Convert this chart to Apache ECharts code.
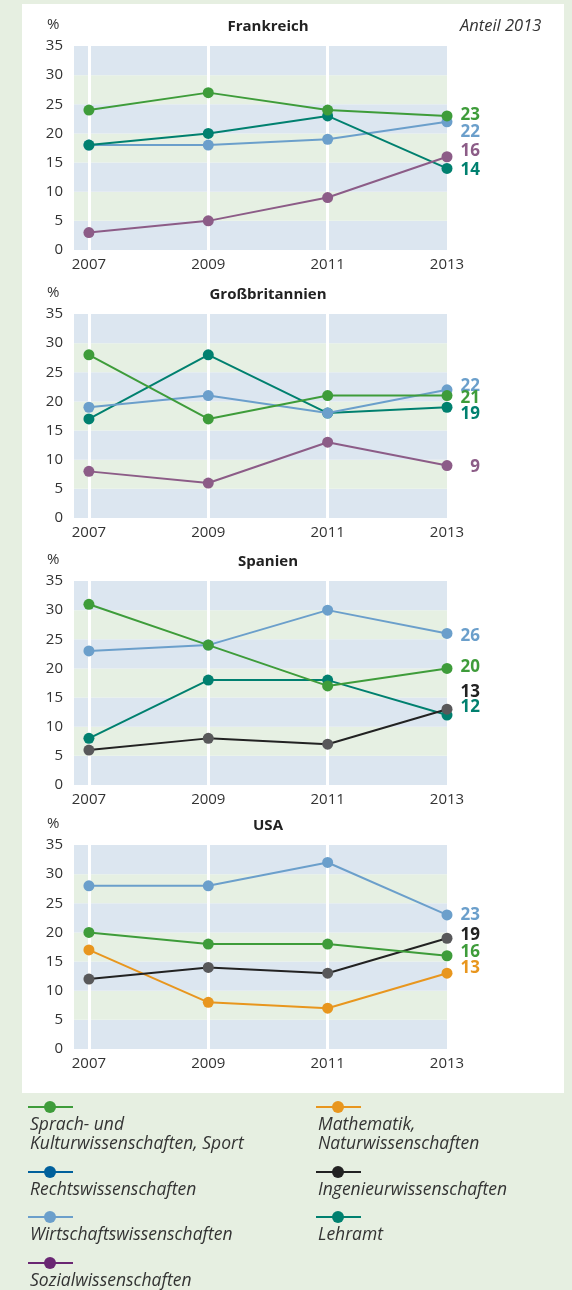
<!DOCTYPE html>
<html>
<head>
<meta charset="utf-8">
<script src="https://cdn.jsdelivr.net/npm/echarts@6/dist/echarts.min.js"></script>
<style>
  html, body { margin: 0; padding: 0; background: #e6efe1; }
  #chart { width: 572px; height: 1290px; }
</style>
</head>
<body>
<div id="chart"></div>
<script>
// data
const years = [2007, 2009, 2011, 2013];
const countries = ["Frankreich", "Großbritannien", "Spanien", "USA"];

const frSprach = [24, 27, 24, 23];
const frWirtschaft = [18, 18, 19, 22];
const frLehramt = [18, 20, 23, 14];
const frSozial = [3, 5, 9, 16];

const gbSprach = [28, 17, 21, 21];
const gbWirtschaft = [19, 21, 18, 22];
const gbLehramt = [17, 28, 18, 19];
const gbSozial = [8, 6, 13, 9];

const esSprach = [31, 24, 17, 20];
const esWirtschaft = [23, 24, 30, 26];
const esLehramt = [8, 18, 18, 12];
const esIngenieur = [6, 8, 7, 13];

const usSprach = [20, 18, 18, 16];
const usWirtschaft = [28, 28, 32, 23];
const usMathematik = [17, 8, 7, 13];
const usIngenieur = [12, 14, 13, 19];

const fields = [
  "Sprach- und\nKulturwissenschaften, Sport",
  "Rechtswissenschaften",
  "Wirtschaftswissenschaften",
  "Sozialwissenschaften",
  "Mathematik,\nNaturwissenschaften",
  "Ingenieurwissenschaften",
  "Lehramt",
];

// styles
const FONT = "'Open Sans', 'Noto Sans', sans-serif";
const TEXT = "#333";
const colors = {
  sprach: "#3e9c3a",
  recht: "#00609c",
  wirtschaft: "#6b9fcb",
  sozial: "#8c5c87",
  sozialLegend: "#6a2773",
  mathe: "#e8961e",
  ingenieur: "#222222",
  ingenieurDot: "#58585a",
  lehramt: "#00806f",
};

const gridTops = [46, 314, 581, 845];
const gridH = 204;

// each chart: [values, color, dot colour, label offset y]
const charts = [
  [
    [frWirtschaft, colors.wirtschaft, colors.wirtschaft, 10],
    [frLehramt, colors.lehramt, colors.lehramt, 2],
    [frSozial, colors.sozial, colors.sozial, -6],
    [frSprach, colors.sprach, colors.sprach, -1],
  ],
  [
    [gbSozial, colors.sozial, colors.sozial, 2],
    [gbLehramt, colors.lehramt, colors.lehramt, 7],
    [gbWirtschaft, colors.wirtschaft, colors.wirtschaft, -4],
    [gbSprach, colors.sprach, colors.sprach, 3],
  ],
  [
    [esWirtschaft, colors.wirtschaft, colors.wirtschaft, 3],
    [esLehramt, colors.lehramt, colors.lehramt, -8],
    [esIngenieur, colors.ingenieur, colors.ingenieurDot, -17],
    [esSprach, colors.sprach, colors.sprach, -1],
  ],
  [
    [usWirtschaft, colors.wirtschaft, colors.wirtschaft, 0],
    [usMathematik, colors.mathe, colors.mathe, -5],
    [usIngenieur, colors.ingenieur, colors.ingenieurDot, -3],
    [usSprach, colors.sprach, colors.sprach, -4],
  ],
];

const grid = [];
const xAxis = [];
const yAxis = [];
const series = [];
const graphic = [
  { type: "rect", left: 22, top: 4, shape: { width: 542, height: 1089 }, style: { fill: "#fff" }, z: -10 },
  {
    type: "text", left: 460, top: 18, z: 10,
    style: { text: "Anteil 2013", font: "italic 16.5px " + FONT, fill: TEXT },
  },
];

gridTops.forEach((top, i) => {
  grid.push({ left: 74, top: top, width: 373, height: gridH });
  xAxis.push({
    type: "value",
    gridIndex: i,
    min: 2006.75,
    max: 2013,
    axisLine: { show: false },
    axisTick: { show: false },
    splitLine: { show: false },
    axisLabel: {
      customValues: years,
      formatter: (v) => String(v),
      color: TEXT, fontSize: 15, fontFamily: FONT, margin: 7,
    },
  });
  yAxis.push({
    type: "value",
    gridIndex: i,
    min: 0,
    max: 35,
    interval: 5,
    axisLine: { show: false },
    axisTick: { show: false },
    splitLine: { show: false },
    splitArea: { show: true, areaStyle: { color: ["#dce6f0", "#e6f0e3"] } },
    axisLabel: { color: TEXT, fontSize: 15, fontFamily: FONT, margin: 11 },
  });

  // white year lines
  series.push({
    type: "line",
    xAxisIndex: i,
    yAxisIndex: i,
    data: [],
    z: 1,
    markLine: {
      z: 1,
      silent: true,
      symbol: "none",
      animation: false,
      label: { show: false },
      lineStyle: { color: "#fff", width: 3, type: "solid" },
      data: years.slice(0, 3).map((y) => ({ xAxis: y })),
    },
  });

  charts[i].forEach(([vals, col, dot, dy], k) => {
    series.push({
      type: "line",
      xAxisIndex: i,
      yAxisIndex: i,
      z: 10 + k,
      data: years.map((y, j) => [y, vals[j]]),
      symbol: "circle",
      symbolSize: 11,
      lineStyle: { color: col, width: 2 },
      itemStyle: { color: dot },
      endLabel: {
        show: true,
        formatter: (p) => p.value[1],
        color: col,
        fontSize: 17,
        fontWeight: "bold",
        fontFamily: FONT,
        align: "right",
        verticalAlign: "middle",
        distance: 0,
        offset: [33, dy],
      },
    });
  });

  graphic.push({
    type: "text", left: 47, top: top - 29, z: 10,
    style: { text: "%", font: "15px " + FONT, fill: TEXT },
  });
  graphic.push({
    type: "text", x: 268, y: top - 19, z: 10,
    style: {
      text: countries[i], font: "bold 15px " + FONT, fill: "#222",
      textAlign: "center", textVerticalAlign: "middle",
    },
  });
});

// legend
const legendColors = [
  colors.sprach, colors.recht, colors.wirtschaft, colors.sozialLegend,
  colors.mathe, colors.ingenieur, colors.lehramt,
];
const legendPos = [
  [28, 1107], [28, 1172], [28, 1217], [28, 1263],
  [316, 1107], [316, 1172], [316, 1217],
];
fields.forEach((name, i) => {
  const [x, y] = legendPos[i];
  graphic.push({
    type: "line", z: 10,
    shape: { x1: x, y1: y, x2: x + 45, y2: y },
    style: { stroke: legendColors[i], lineWidth: 2 },
  });
  graphic.push({
    type: "circle", z: 11,
    shape: { cx: x + 22, cy: y, r: 6 },
    style: { fill: legendColors[i] },
  });
  graphic.push({
    type: "text", z: 10, x: x + 2, y: y + 9,
    style: { text: name, font: "italic 17.5px " + FONT, fill: TEXT, lineHeight: 19 },
  });
});

const chart = echarts.init(document.getElementById("chart"));
chart.setOption({
  animation: false,
  backgroundColor: "#e6efe1",
  grid: grid,
  xAxis: xAxis,
  yAxis: yAxis,
  series: series,
  graphic: graphic,
});
</script>
</body>
</html>
